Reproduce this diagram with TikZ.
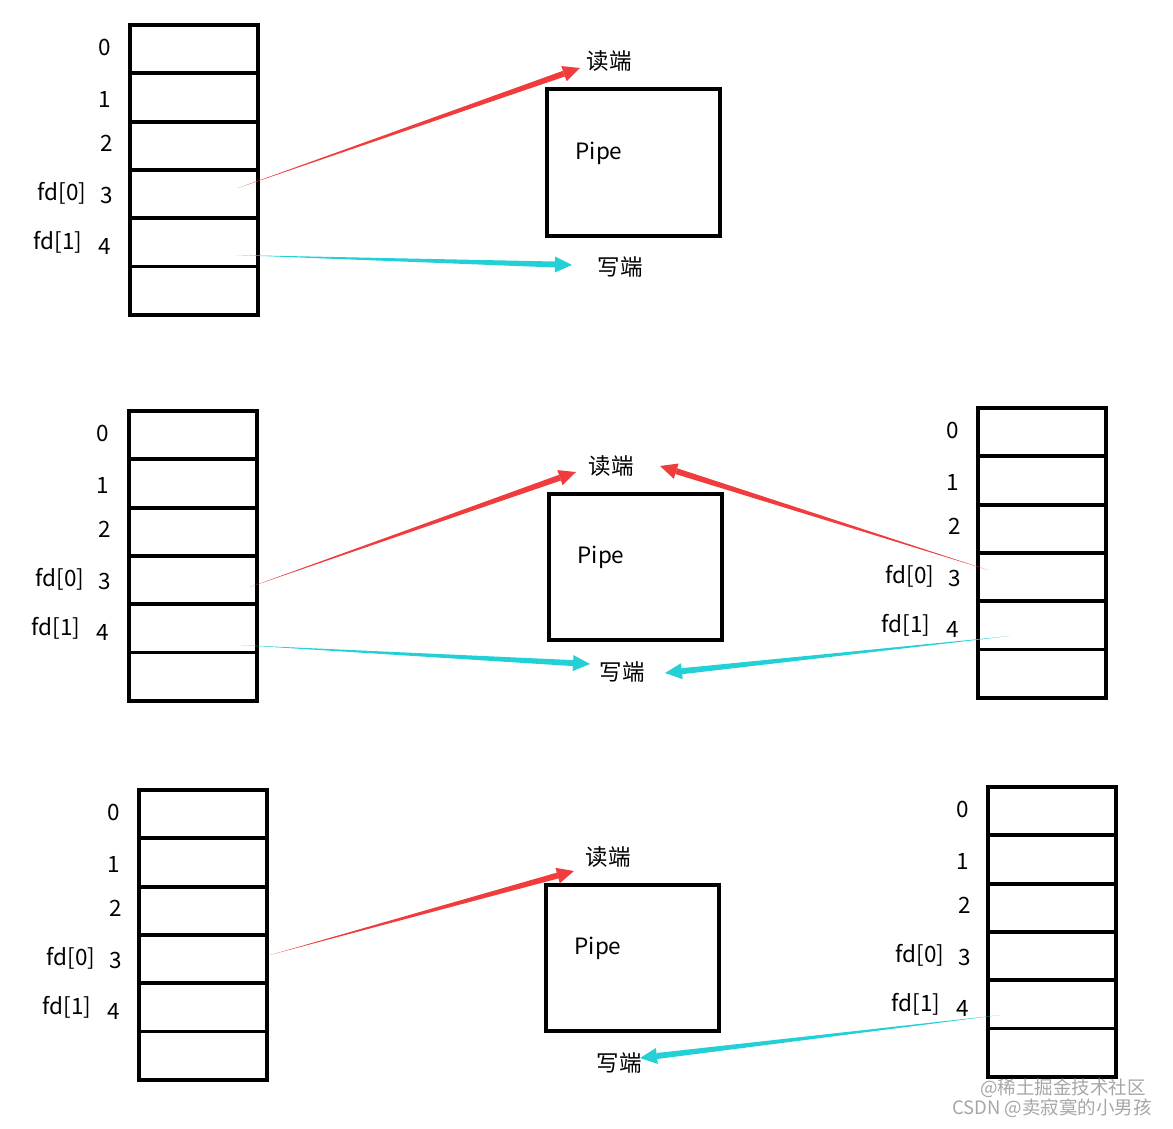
\documentclass[tikz,border=0pt]{standalone}
\usepackage{fontspec}
\setmainfont{Noto Sans CJK SC}
\usetikzlibrary{calc}
\definecolor{rd}{RGB}{240,60,60}
\definecolor{cy}{RGB}{35,208,214}
\tikzset{cell/.style={draw,line width=3.8pt,minimum width=128pt,minimum height=48.3pt,inner sep=0,outer sep=0},
pipe/.style={draw,line width=3.8pt,inner sep=0,outer sep=0},
lbl/.style={font=\fontsize{22.5}{22.5}\selectfont,inner sep=0},
wm/.style={font=\fontsize{18.5}{18.5}\selectfont,text=gray!70,inner sep=0}}
\newcommand\wedgearr[3]{% color, start, end
 \coordinate (wM) at ($(#3)!17pt!(#2)$);
 \fill[#1] (#2) -- ($(wM)!3pt!90:(#3)$) -- ($(wM)!3pt!-90:(#3)$) -- cycle;
 \fill[#1] ($(wM)!8pt!90:(#3)$) -- (#3) -- ($(wM)!8pt!-90:(#3)$) -- cycle;}
\newcommand\stackfd[4]{% name, x left, y top, label x shift
 \foreach \i in {0,...,5}{\node[cell,anchor=north west] (#1\i) at (#2,{#3+48.3*\i}) {};}
 \node[lbl] (#1l0) at ({#2-25+#4},{#3+22}) {0};
 \node[lbl] (#1l1) at ({#2-25+#4},{#3+74}) {1};
 \node[lbl] (#1l2) at ({#2-23+#4},{#3+118}) {2};
 \node[lbl] (#1l3) at ({#2-23+#4},{#3+170}) {3};
 \node[lbl] (#1f0) at ({#2-68+#4},{#3+168}) {fd[0]};
 \node[lbl] (#1l4) at ({#2-25+#4},{#3+221}) {4};
 \node[lbl] (#1f1) at ({#2-72+#4},{#3+217}) {fd[1]};}
\begin{document}
\begin{tikzpicture}[x=1pt,y=-1pt]
\useasboundingbox (0,0) rectangle (1173,1128);
% block 1
\stackfd{a}{130}{25}{0}
\node[pipe,minimum width=173pt,minimum height=147pt,anchor=north west] (p1) at (547,89) {};
\node[lbl] (pt1) at (599,153) {Pipe};
\node[lbl] (r1) at (609,61) {读端};
\node[lbl] (w1) at (620,267) {写端};
\coordinate (a1s) at (238,188); \coordinate (a1e) at (580,68);
\coordinate (b1s) at (236,255); \coordinate (b1e) at (572,265);
\wedgearr{rd}{a1s}{a1e}
\wedgearr{cy}{b1s}{b1e}
% block 2
\stackfd{b}{129}{411}{-1}
\stackfd{c}{978}{408}{0}
\node[pipe,minimum width=173pt,minimum height=146pt,anchor=north west] (p2) at (549,494) {};
\node[lbl] (pt2) at (601,557) {Pipe};
\node[lbl] (r2) at (611,466) {读端};
\node[lbl] (w2) at (622,672) {写端};
\coordinate (a2s) at (250,587); \coordinate (a2e) at (576,472);
\coordinate (b2s) at (240,645); \coordinate (b2e) at (590,664);
\coordinate (c2s) at (988,570); \coordinate (c2e) at (660,466);
\coordinate (d2s) at (1010,636); \coordinate (d2e) at (665,673);
\wedgearr{rd}{a2s}{a2e}
\wedgearr{cy}{b2s}{b2e}
\wedgearr{rd}{c2s}{c2e}
\wedgearr{cy}{d2s}{d2e}
% block 3
\stackfd{d}{139}{790}{0}
\stackfd{e}{988}{787}{0}
\node[pipe,minimum width=173pt,minimum height=146pt,anchor=north west] (p3) at (546,885) {};
\node[lbl] (pt3) at (598,948) {Pipe};
\node[lbl] (r3) at (608,857) {读端};
\node[lbl] (w3) at (619,1063) {写端};
\coordinate (a3s) at (270,955); \coordinate (a3e) at (574,871);
\coordinate (d3s) at (1000,1015); \coordinate (d3e) at (640,1058);
\wedgearr{rd}{a3s}{a3e}
\wedgearr{cy}{d3s}{d3e}
% watermark
\node[wm] (wm1) at (1063,1088) {@稀土掘金技术社区};
\node[wm] (wm2) at (1052,1108) {CSDN @卖寂寞的小男孩};
\end{tikzpicture}
\end{document}
